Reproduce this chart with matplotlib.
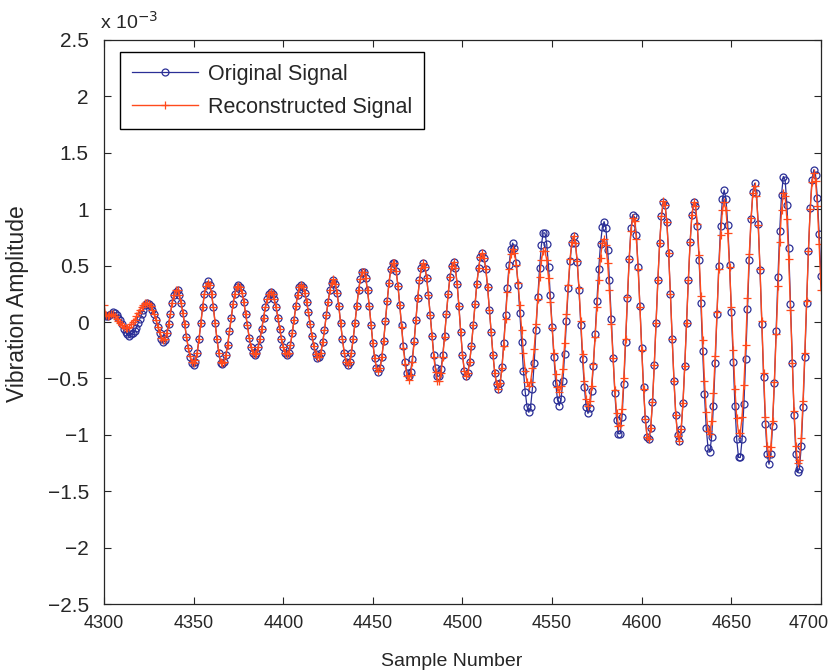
import matplotlib
matplotlib.use("Agg")
import matplotlib.pyplot as plt
import matplotlib.transforms as mtransforms
import numpy as np

plt.rcParams['font.family'] = ['Liberation Sans', 'DejaVu Sans']

# sample numbers 4300..4700
samples = np.arange(4300, 4701)

# amplitudes, in units of 1e-3
original = [
    0.06, 0.05, 0.05, 0.06, 0.07, 0.09, 0.08, 0.06, 0.04, 0.02,
    -0.02, -0.06, -0.09, -0.11, -0.12, -0.11, -0.10, -0.08, -0.05, -0.01,
    0.03, 0.07, 0.11, 0.15, 0.17, 0.16, 0.14, 0.11, 0.07, 0.02,
    -0.04, -0.10, -0.15, -0.18, -0.16, -0.10, -0.02, 0.07, 0.17, 0.24,
    0.27, 0.28, 0.24, 0.17, 0.08, -0.02, -0.13, -0.23, -0.31, -0.36,
    -0.38, -0.35, -0.27, -0.15, -0.01, 0.13, 0.25, 0.33, 0.36, 0.33,
    0.25, 0.13, -0.01, -0.15, -0.27, -0.36, -0.37, -0.35, -0.29, -0.20,
    -0.08, 0.04, 0.16, 0.25, 0.31, 0.33, 0.31, 0.26, 0.18, 0.07,
    -0.03, -0.14, -0.22, -0.27, -0.29, -0.27, -0.22, -0.15, -0.06, 0.04,
    0.13, 0.20, 0.25, 0.27, 0.25, 0.20, 0.13, 0.04, -0.06, -0.15,
    -0.22, -0.27, -0.29, -0.27, -0.20, -0.10, 0.02, 0.14, 0.24, 0.31,
    0.33, 0.31, 0.26, 0.18, 0.09, -0.02, -0.12, -0.21, -0.28, -0.32,
    -0.31, -0.27, -0.18, -0.07, 0.06, 0.18, 0.28, 0.35, 0.37, 0.34,
    0.26, 0.14, -0.01, -0.15, -0.27, -0.35, -0.38, -0.35, -0.27, -0.15,
    -0.01, 0.14, 0.28, 0.38, 0.44, 0.44, 0.39, 0.28, 0.14, -0.03,
    -0.19, -0.32, -0.41, -0.44, -0.41, -0.31, -0.17, 0.01, 0.19, 0.35,
    0.47, 0.52, 0.52, 0.45, 0.32, 0.15, -0.03, -0.21, -0.35, -0.45,
    -0.48, -0.44, -0.33, -0.17, 0.02, 0.21, 0.37, 0.48, 0.52, 0.49,
    0.39, 0.24, 0.06, -0.12, -0.29, -0.41, -0.48, -0.48, -0.42, -0.29,
    -0.12, 0.07, 0.25, 0.40, 0.50, 0.53, 0.48, 0.34, 0.14, -0.09,
    -0.29, -0.43, -0.48, -0.45, -0.35, -0.21, -0.03, 0.16, 0.34, 0.48,
    0.58, 0.61, 0.57, 0.47, 0.31, 0.11, -0.09, -0.29, -0.45, -0.55,
    -0.59, -0.54, -0.40, -0.19, 0.06, 0.30, 0.51, 0.65, 0.70, 0.66,
    0.52, 0.33, 0.08, -0.18, -0.43, -0.62, -0.75, -0.80, -0.75, -0.59,
    -0.36, -0.07, 0.22, 0.48, 0.68, 0.79, 0.79, 0.69, 0.49, 0.24,
    -0.04, -0.31, -0.54, -0.69, -0.74, -0.68, -0.52, -0.28, 0.01, 0.30,
    0.54, 0.70, 0.76, 0.70, 0.53, 0.28, -0.03, -0.33, -0.58, -0.75,
    -0.81, -0.76, -0.61, -0.39, -0.11, 0.19, 0.47, 0.69, 0.84, 0.89,
    0.83, 0.64, 0.37, 0.03, -0.32, -0.63, -0.87, -0.99, -0.99, -0.84,
    -0.55, -0.18, 0.21, 0.56, 0.83, 0.95, 0.93, 0.77, 0.49, 0.14,
    -0.23, -0.58, -0.86, -1.02, -1.04, -0.94, -0.71, -0.38, -0.01, 0.37,
    0.70, 0.94, 1.06, 1.04, 0.89, 0.61, 0.25, -0.15, -0.52, -0.82,
    -1.00, -1.05, -0.95, -0.72, -0.39, -0.01, 0.37, 0.71, 0.95, 1.06,
    1.03, 0.85, 0.55, 0.17, -0.26, -0.64, -0.94, -1.12, -1.15, -1.02,
    -0.74, -0.36, 0.07, 0.50, 0.85, 1.09, 1.17, 1.09, 0.86, 0.51,
    0.09, -0.35, -0.74, -1.04, -1.20, -1.20, -1.04, -0.73, -0.33, 0.12,
    0.55, 0.91, 1.15, 1.23, 1.14, 0.87, 0.46, -0.02, -0.49, -0.90,
    -1.17, -1.26, -1.17, -0.92, -0.54, -0.08, 0.40, 0.81, 1.13, 1.29,
    1.26, 1.04, 0.66, 0.16, -0.36, -0.82, -1.17, -1.33, -1.30, -1.10,
    -0.75, -0.31, 0.17, 0.63, 1.01, 1.26, 1.35, 1.30, 1.10, 0.78,
    0.41,
]

reconstructed = [
    0.15, 0.06, 0.05, 0.06, 0.07, 0.07, 0.05, 0.03, 0.01, -0.01,
    -0.03, -0.04, -0.05, -0.05, -0.04, -0.02, 0.00, 0.02, 0.05, 0.08,
    0.11, 0.13, 0.15, 0.17, 0.17, 0.16, 0.14, 0.11, 0.07, 0.02,
    -0.04, -0.09, -0.14, -0.16, -0.15, -0.10, -0.02, 0.07, 0.17, 0.24,
    0.28, 0.28, 0.24, 0.17, 0.08, -0.02, -0.13, -0.23, -0.30, -0.35,
    -0.36, -0.34, -0.27, -0.15, -0.01, 0.13, 0.25, 0.32, 0.35, 0.33,
    0.25, 0.13, -0.01, -0.15, -0.27, -0.35, -0.36, -0.35, -0.29, -0.20,
    -0.08, 0.04, 0.16, 0.25, 0.31, 0.32, 0.31, 0.26, 0.18, 0.07,
    -0.03, -0.14, -0.22, -0.27, -0.28, -0.27, -0.22, -0.15, -0.06, 0.04,
    0.13, 0.20, 0.25, 0.27, 0.25, 0.20, 0.13, 0.04, -0.06, -0.15,
    -0.22, -0.27, -0.28, -0.27, -0.20, -0.10, 0.02, 0.14, 0.24, 0.31,
    0.33, 0.31, 0.26, 0.18, 0.09, -0.02, -0.12, -0.21, -0.28, -0.31,
    -0.31, -0.27, -0.18, -0.07, 0.06, 0.18, 0.28, 0.35, 0.38, 0.34,
    0.26, 0.14, -0.01, -0.15, -0.27, -0.35, -0.37, -0.35, -0.27, -0.15,
    -0.01, 0.14, 0.28, 0.38, 0.44, 0.44, 0.39, 0.28, 0.14, -0.03,
    -0.19, -0.32, -0.41, -0.43, -0.41, -0.31, -0.17, 0.01, 0.19, 0.35,
    0.47, 0.52, 0.52, 0.45, 0.32, 0.15, -0.04, -0.23, -0.37, -0.48,
    -0.51, -0.47, -0.35, -0.18, 0.02, 0.21, 0.37, 0.48, 0.52, 0.49,
    0.39, 0.24, 0.06, -0.12, -0.31, -0.44, -0.52, -0.52, -0.45, -0.31,
    -0.13, 0.07, 0.25, 0.40, 0.50, 0.53, 0.48, 0.34, 0.14, -0.09,
    -0.29, -0.43, -0.48, -0.45, -0.35, -0.21, -0.03, 0.16, 0.34, 0.48,
    0.58, 0.61, 0.57, 0.47, 0.31, 0.11, -0.09, -0.29, -0.45, -0.55,
    -0.59, -0.54, -0.41, -0.21, 0.03, 0.27, 0.47, 0.60, 0.65, 0.61,
    0.51, 0.35, 0.15, -0.07, -0.27, -0.43, -0.53, -0.57, -0.53, -0.41,
    -0.24, -0.02, 0.20, 0.40, 0.55, 0.63, 0.63, 0.55, 0.39, 0.18,
    -0.05, -0.27, -0.46, -0.58, -0.62, -0.57, -0.42, -0.19, 0.07, 0.33,
    0.56, 0.71, 0.76, 0.70, 0.54, 0.30, 0.01, -0.28, -0.52, -0.68,
    -0.74, -0.70, -0.57, -0.37, -0.13, 0.13, 0.37, 0.57, 0.70, 0.74,
    0.68, 0.52, 0.28, -0.02, -0.32, -0.60, -0.81, -0.92, -0.91, -0.77,
    -0.50, -0.15, 0.22, 0.56, 0.81, 0.92, 0.90, 0.74, 0.47, 0.13,
    -0.25, -0.59, -0.86, -1.02, -1.04, -0.94, -0.71, -0.38, -0.01, 0.37,
    0.70, 0.94, 1.07, 1.04, 0.89, 0.61, 0.25, -0.15, -0.52, -0.82,
    -1.01, -1.05, -0.95, -0.72, -0.39, -0.01, 0.37, 0.71, 0.95, 1.06,
    1.03, 0.87, 0.59, 0.23, -0.16, -0.52, -0.80, -0.97, -0.99, -0.88,
    -0.63, -0.30, 0.09, 0.47, 0.77, 0.99, 1.06, 0.99, 0.79, 0.49,
    0.13, -0.25, -0.59, -0.85, -0.98, -0.98, -0.84, -0.56, -0.20, 0.21,
    0.60, 0.92, 1.14, 1.21, 1.12, 0.86, 0.47, 0.01, -0.45, -0.84,
    -1.10, -1.19, -1.11, -0.88, -0.53, -0.11, 0.32, 0.71, 0.99, 1.14,
    1.12, 0.91, 0.56, 0.11, -0.36, -0.79, -1.10, -1.25, -1.22, -1.03,
    -0.70, -0.27, 0.19, 0.63, 1.00, 1.24, 1.32, 1.25, 1.03, 0.69,
    0.28,
]

x_ticks = [4300, 4350, 4400, 4450, 4500, 4550, 4600, 4650, 4700]
y_ticks = [-2.5, -2, -1.5, -1, -0.5, 0, 0.5, 1, 1.5, 2, 2.5]
y_labels = ['\u22122.5', '\u22122', '\u22121.5', '\u22121', '\u22120.5', '0',
            '0.5', '1', '1.5', '2', '2.5']

blue = '#2b2f96'
red = '#ff4a1c'
txt = '#262626'

fig = plt.figure(figsize=(8.39, 6.72), dpi=100)
ax = fig.add_axes([0.124, 0.101, 0.8545, 0.8395])

ax.plot(samples, original, color=blue, lw=0.9, marker='o', ms=5.0,
        mfc='none', mec=blue, mew=0.9, label='Original Signal')
ax.plot(samples, reconstructed, color=red, lw=1.0, marker='+', ms=6.0,
        mew=0.9, label='Reconstructed Signal')

ax.set_xlim(4300, 4700)
ax.set_ylim(-2.5, 2.5)
ax.set_xticks(x_ticks)
ax.set_yticks(y_ticks)
ax.set_yticklabels(y_labels)
ax.tick_params(direction='in', top=True, right=True, length=5, width=0.8,
               colors=txt)
ax.tick_params(axis='x', labelsize=13, pad=8)
ax.tick_params(axis='y', labelsize=15, pad=11)
for sp in ax.spines.values():
    sp.set_linewidth(0.9)
    sp.set_color(txt)

# nudge the last x label left so it stays inside the figure
last = ax.get_xticklabels()[-1]
last.set_transform(last.get_transform() +
                   mtransforms.ScaledTranslation(-0.12, 0, fig.dpi_scale_trans))

fig.text(452 / 839, 1 - 661 / 672, 'Sample Number', fontsize=14,
         color=txt, ha='center', va='center')
fig.text(18 / 839, 1 - 304 / 672, 'Vibration Amplitude', fontsize=16.5,
         color=txt, ha='center', va='center', rotation=90)
ax.text(-0.006, 1.012, r'x 10$^{-3}$', transform=ax.transAxes, fontsize=14,
        color=txt, ha='left', va='bottom')

leg = ax.legend(loc='upper left', bbox_to_anchor=(0.022, 0.979),
                borderaxespad=0, fontsize=15.5, numpoints=1, handlelength=3.1,
                fancybox=False, edgecolor='black', framealpha=1,
                borderpad=0.55, labelspacing=0.55, handletextpad=0.45)
leg.get_frame().set_linewidth(1.0)
for t in leg.get_texts():
    t.set_color(txt)

fig.savefig('out.png', dpi=100)
